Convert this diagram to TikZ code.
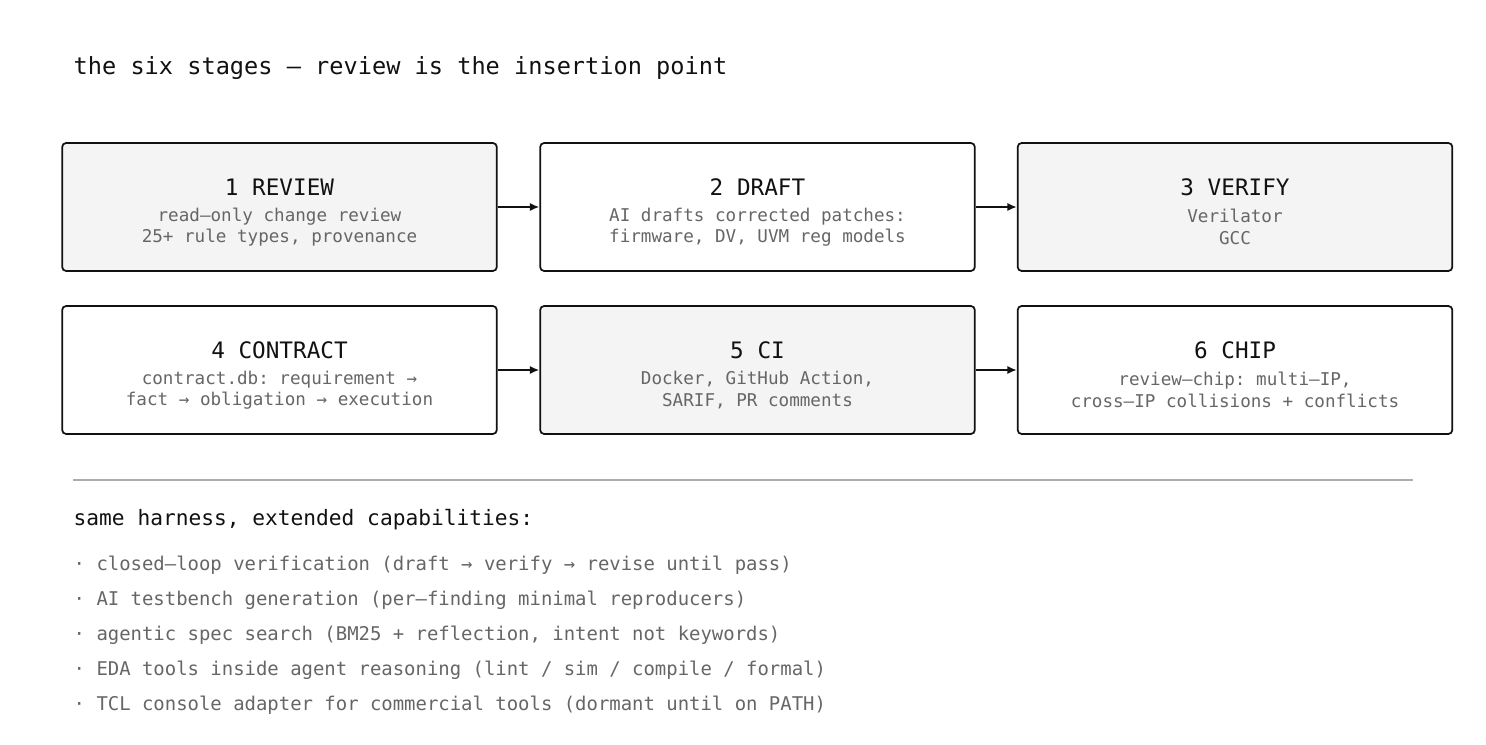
\documentclass[tikz,border=0pt]{standalone}
\usepackage{fontspec}
\setmonofont{DejaVu Sans Mono}
\usetikzlibrary{positioning,arrows.meta}
\definecolor{boxgray}{HTML}{F4F4F4}
\definecolor{txtgray}{HTML}{666666}
\definecolor{ink}{HTML}{111111}

\begin{document}
\begin{tikzpicture}[x=0.75pt, y=-0.75pt,
    stage/.style={draw=ink, line width=1.3pt, rounded corners=3pt, minimum width=326pt, minimum height=96pt, inner sep=0pt},
    shaded/.style={stage, fill=boxgray},
    plain/.style={stage, fill=white},
    flow/.style={-{Latex[length=7pt,width=6pt]}, line width=1.3pt, ink},
    sub/.style={font=\ttfamily\fontsize{13.2}{16}\selectfont, text=txtgray, align=center},
    bullet/.style={font=\ttfamily\fontsize{14.2}{17}\selectfont, text=txtgray, anchor=west}]
  \useasboundingbox (0,0) rectangle (1486,745);

  % heading
  \node[font=\ttfamily\fontsize{17.7}{21}\selectfont, text=ink, anchor=west] (title) at (69,68) {the six stages — review is the insertion point};

  % --- stage boxes ---
  \node[shaded] (review) at (279.5,207) {};
  \node[plain] (draft) at (757.5,207) {};
  \node[shaded] (verify) at (1235,207) {};
  \node[plain] (contract) at (279.5,370) {};
  \node[shaded] (ci) at (757.5,370) {};
  \node[plain] (chip) at (1235,370) {};

  % box texts
  \foreach \b/\t/\la/\lb in {review/1 REVIEW/read–only change review/{25+ rule types, provenance},
      draft/2 DRAFT/AI drafts corrected patches:/{firmware, DV, UVM reg models},
      verify/3 VERIFY/Verilator / GCC / formal –/{execute checks, capture evidence},
      contract/4 CONTRACT/contract.db: requirement →/fact → obligation → execution,
      ci/5 CI/{Docker, GitHub Action,}/{SARIF, PR comments},
      chip/6 CHIP/{review–chip: multi–IP,}/cross–IP collisions + conflicts} {
    \node[font=\ttfamily\fontsize{17}{20}\selectfont, text=ink] (\b-head) at ([yshift=15pt]\b.center) {\t};
    \node[sub] (\b-sub) at ([yshift=-15pt]\b.center) {\la\\\lb};
  }

  % arrows
  \draw[flow] (review) -- (draft);
  \draw[flow] (draft) -- (verify);
  \draw[flow] (contract) -- (ci);
  \draw[flow] (ci) -- (chip);

  % separator
  \coordinate (sepL) at (73,480);
  \coordinate (sepR) at (1413,480);
  \draw[line width=1.3pt, gray!65] (sepL) -- (sepR);

  % capabilities
  \node[font=\ttfamily\fontsize{15.9}{19}\selectfont, text=ink, anchor=west] (caps) at (69,520) {same harness, extended capabilities:};
  \node[bullet] (c1) at (69,565) {· closed–loop verification (draft → verify → revise until pass)};
  \node[bullet] (c2) at (69,600) {· AI testbench generation (per–finding minimal reproducers)};
  \node[bullet] (c3) at (69,635) {· agentic spec search (BM25 + reflection, intent not keywords)};
  \node[bullet] (c4) at (69,670) {· EDA tools inside agent reasoning (lint / sim / compile / formal)};
  \node[bullet] (c5) at (69,705) {· TCL console adapter for commercial tools (dormant until on PATH)};
\end{tikzpicture}
\end{document}
